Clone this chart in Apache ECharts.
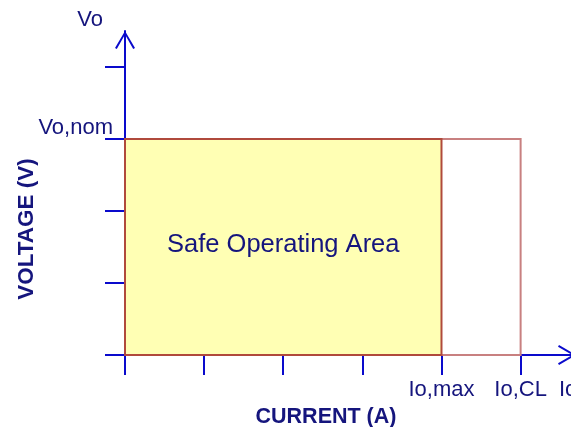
<!DOCTYPE html>
<html>
<head>
<meta charset="utf-8">
<script src="https://cdn.jsdelivr.net/npm/echarts@6/dist/echarts.min.js"></script>
<style>
  html, body { margin: 0; padding: 0; background: #fff; }
  #main { width: 571px; height: 427px; }
</style>
</head>
<body>
<div id="main"></div>
<script>
// tick positions (arbitrary units)
var xTicks = [0, 1, 2, 3, 4, 5]
var yTicks = [0, 1, 2, 3, 4]
// labelled points on the axes
var xLabelValues = [4, 5, 5.6]
var xLabelTexts = ['Io,max', 'Io,CL', 'Io']
var yLabelValues = [3, 4.5]
var yLabelTexts = ['Vo,nom', 'Vo']
// rectangles: [current, voltage] corners
var limitArea = [[0, 0], [5, 3]]
var safeArea = [[0, 0], [4, 3]]
var safeText = 'Safe Operating Area'

var font = 'Arial, "Liberation Sans", sans-serif'
var axisBlue = '#0a0acc'
var textNavy = '#15157d'
var chevron = 'path://M0,17 L10,0 L20,17 L18.2,18 L10,3.6 L1.8,18 Z'

var myChart = echarts.init(document.getElementById('main'))
var option = {
  animation: false,
  grid: { left: 125, right: -5, top: 31, bottom: 72, outerBoundsMode: 'none', containLabel: false },
  xAxis: {
    type: 'value',
    min: 0,
    max: 5.7,
    name: 'CURRENT (A)',
    nameLocation: 'middle',
    nameMoveOverlap: false,
    nameGap: 51,
    nameTextStyle: {
      fontFamily: font, fontSize: 21.5, fontWeight: 'bold', color: textNavy,
      padding: [0, 49, 0, 0]
    },
    splitLine: { show: false },
    axisLine: {
      lineStyle: { color: axisBlue, width: 2 },
      symbol: ['none', chevron],
      symbolSize: [20, 18],
      symbolOffset: [0, -9]
    },
    axisTick: {
      customValues: xTicks,
      length: 20,
      lineStyle: { color: axisBlue, width: 2 }
    },
    axisLabel: {
      customValues: xLabelValues,
      margin: 24,
      fontFamily: font,
      fontSize: 22,
      color: textNavy,
      formatter: function (v) {
        var i = xLabelValues.indexOf(v)
        return i >= 0 ? xLabelTexts[i] : ''
      }
    }
  },
  yAxis: {
    type: 'value',
    min: 0,
    max: 4.5,
    name: 'VOLTAGE (V)',
    nameLocation: 'middle',
    nameMoveOverlap: false,
    nameGap: 87,
    nameTextStyle: {
      fontFamily: font, fontSize: 22.5, fontWeight: 'bold', color: textNavy,
      padding: [0, 72, 0, 0]
    },
    splitLine: { show: false },
    axisLine: {
      lineStyle: { color: axisBlue, width: 2 },
      symbol: ['none', chevron],
      symbolSize: [20, 18],
      symbolOffset: [0, -9]
    },
    axisTick: {
      customValues: yTicks,
      length: 20,
      lineStyle: { color: axisBlue, width: 2 }
    },
    axisLabel: {
      customValues: yLabelValues,
      margin: 12,
      verticalAlign: 'bottom',
      fontFamily: font,
      fontSize: 22,
      color: textNavy,
      formatter: function (v) {
        var i = yLabelValues.indexOf(v)
        if (i < 0) return ''
        return i === 1 ? '{top|' + yLabelTexts[i] + '}' : '{nom|' + yLabelTexts[i] + '}'
      },
      rich: {
        top: { fontFamily: font, fontSize: 22, color: textNavy, padding: [0, 10, 0, 0] },
        nom: { fontFamily: font, fontSize: 22, color: textNavy, padding: [0, 0, 0, 0] }
      }
    }
  },
  series: [{
    type: 'line',
    data: [],
    silent: true,
    markArea: {
      silent: true,
      data: [
        [
          { coord: limitArea[0], itemStyle: { color: 'rgba(0,0,0,0)', borderColor: '#c88080', borderWidth: 2 }, label: { show: false } },
          { coord: limitArea[1] }
        ],
        [
          { coord: safeArea[0], name: safeText, itemStyle: { color: '#ffffb4', borderColor: '#b04a3c', borderWidth: 2 } },
          { coord: safeArea[1] }
        ]
      ],
      label: {
        show: true,
        position: 'inside',
        offset: [0, -2],
        fontFamily: font,
        fontSize: 25.5,
        color: textNavy
      }
    }
  }]
}
myChart.setOption(option)
</script>
</body>
</html>
